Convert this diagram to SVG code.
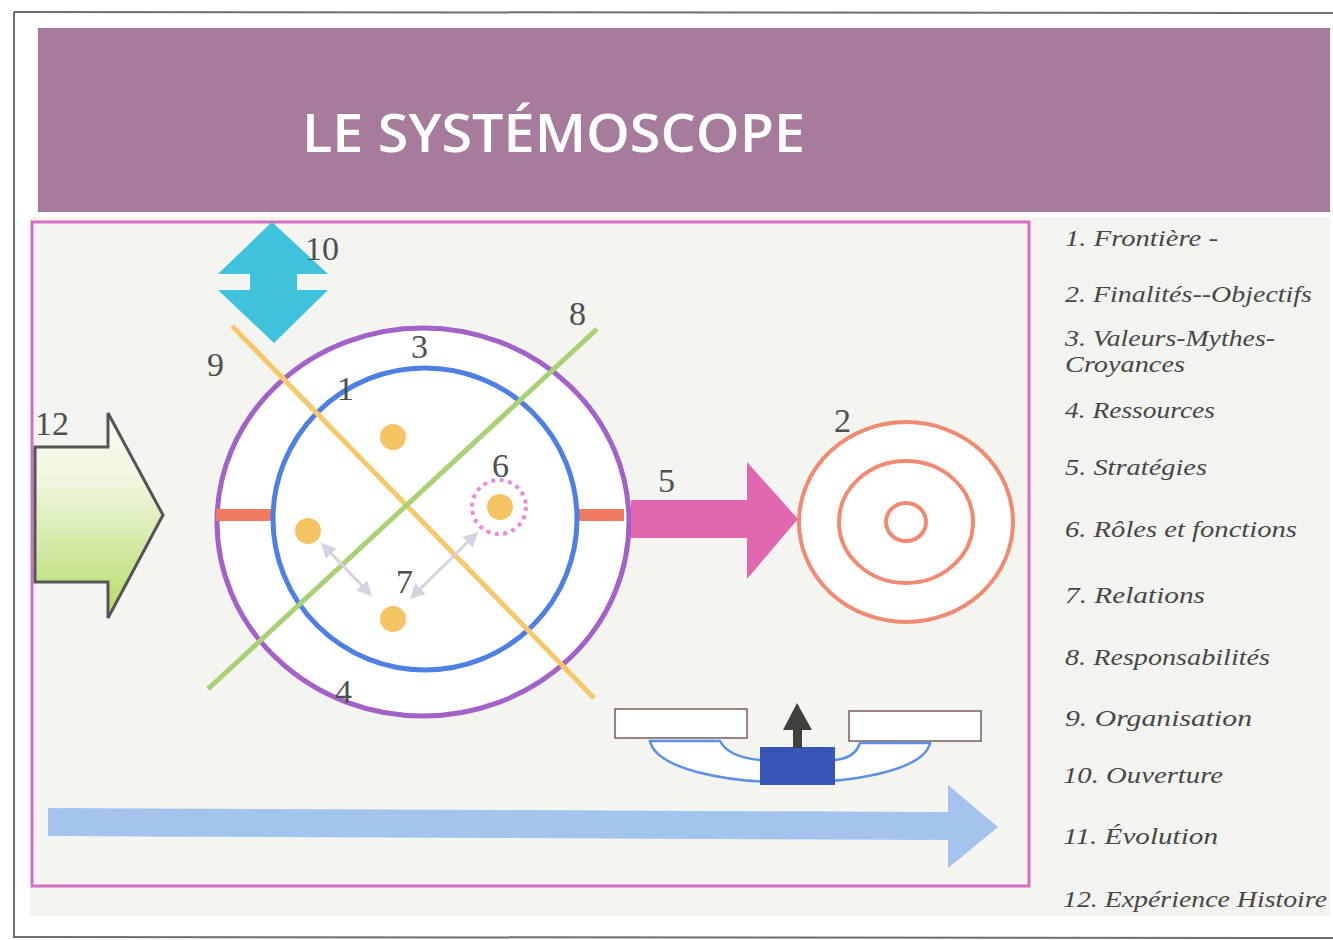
<svg xmlns="http://www.w3.org/2000/svg" width="1333" height="940" viewBox="0 0 1333 940">
<defs>
<style>
.num{font-family:"Liberation Serif","Times New Roman",serif;font-size:34px;fill:#4f4f4f}
.leg{font-family:"Liberation Serif","DejaVu Serif",serif;font-style:italic;font-size:24px;fill:#474747}
.dot{fill:#f5c463}
.ring{fill:none;stroke:#f08a72;stroke-width:4}
</style>
<linearGradient id="gGreen" x1="0" y1="0" x2="0" y2="1">
<stop offset="0" stop-color="#fbfcf6"/>
<stop offset="0.35" stop-color="#eef5dc"/>
<stop offset="1" stop-color="#b4dc66"/>
</linearGradient>
<marker id="ga" viewBox="0 0 10 10" refX="8" refY="5" markerWidth="5" markerHeight="5" orient="auto-start-reverse">
<path d="M0,0 L10,5 L0,10 Z" fill="#d6d2e2"/>
</marker>
</defs>
<rect x="0" y="0" width="1333" height="940" fill="#ffffff"/>
<g id="page">
<line x1="14" y1="12" x2="1333" y2="13" stroke="#6e6e6e" stroke-width="2"/>
<line x1="14" y1="12" x2="14" y2="938" stroke="#6e6e6e" stroke-width="2"/>
<line x1="14" y1="937" x2="1333" y2="938" stroke="#6e6e6e" stroke-width="2"/>
<rect x="30" y="217" width="1300" height="699" fill="#f3f4ef"/>
</g>
<g id="title">
<rect x="38" y="28" width="1292" height="184" fill="#a67b9b"/>
<text x="302" y="152" font-family="'Open Sans','Liberation Sans',sans-serif" font-weight="600" font-size="52" fill="#ffffff" textLength="503" lengthAdjust="spacingAndGlyphs">LE SYSTÉMOSCOPE</text>
</g>
<g id="frame">
<rect x="32" y="222" width="997" height="664" fill="#f4f5f0" stroke="#d56fc6" stroke-width="3"/>
</g>
<g id="n11-evolution">
<polygon points="48,808 948,812 948,785 998,827 948,868 948,840 48,836" fill="#a4c4ee"/>
</g>
<g id="n12-experience">
<polygon points="35,447 108,447 108,413 163,515 108,618 108,582 35,582" fill="url(#gGreen)" stroke="#555555" stroke-width="3" stroke-linejoin="miter"/>
<text class="num" x="35" y="435">12</text>
</g>
<g id="n10-ouverture">
<polygon points="272,222 328,274 297,274 297,290 328,290 274,343 218,290 250,290 250,274 218,274" fill="#3fc2dc"/>
<text class="num" x="305" y="260">10</text>
</g>
<g id="n4-ressources">
<ellipse cx="423" cy="522" rx="206" ry="194" fill="#ffffff" stroke="#a262c8" stroke-width="5"/>
<text class="num" x="335" y="703">4</text>
<text class="num" x="411" y="358">3</text>
</g>
<g id="n1-frontiere">
<rect x="216" y="509" width="56" height="12" fill="#f07a62"/>
<rect x="578" y="509" width="46" height="12" fill="#f07a62"/>
<ellipse cx="425" cy="519" rx="152" ry="151" fill="none" stroke="#4d80e2" stroke-width="5"/>
<text class="num" x="337" y="400">1</text>
</g>
<g id="n9-organisation">
<line x1="232" y1="326" x2="594" y2="698" stroke="#f5c86c" stroke-width="5"/>
<text class="num" x="207" y="376">9</text>
</g>
<g id="n8-responsabilites">
<line x1="597" y1="329" x2="208" y2="689" stroke="#a9d175" stroke-width="5"/>
<text class="num" x="569" y="325">8</text>
</g>
<g id="n6-roles">
<circle class="dot" cx="393" cy="437" r="13"/>
<circle class="dot" cx="308" cy="531" r="13"/>
<circle class="dot" cx="393" cy="619" r="13"/>
<circle class="dot" cx="500" cy="507" r="13"/>
<circle cx="499" cy="507" r="27" fill="none" stroke="#ec8ad8" stroke-width="4" stroke-dasharray="4 4.5"/>
<text class="num" x="492" y="477">6</text>
<text class="num" x="396" y="593">7</text>
</g>
<g id="n2-finalites">
<ellipse cx="906" cy="522" rx="107" ry="100" fill="#ffffff" stroke="#f08a72" stroke-width="4"/>
<ellipse class="ring" cx="906" cy="522" rx="67" ry="61"/>
<ellipse class="ring" cx="906" cy="522" rx="20" ry="19"/>
<text class="num" x="834" y="432">2</text>
</g>
<g id="connectors">
<polygon points="631,500 747,500 747,462 798,519 747,579 747,538 631,538" fill="#e167b0"/>
<line x1="323" y1="545" x2="370" y2="594" stroke="#d6d2e2" stroke-width="3" marker-start="url(#ga)" marker-end="url(#ga)"/>
<line x1="476" y1="534" x2="412" y2="597" stroke="#d6d2e2" stroke-width="3" marker-start="url(#ga)" marker-end="url(#ga)"/>
<text class="num" x="658" y="492">5</text>
</g>
<g id="balance">
<rect x="615" y="709" width="132" height="29" fill="#ffffff" stroke="#7a5c5c" stroke-width="1.5"/>
<rect x="849" y="711" width="132" height="30" fill="#ffffff" stroke="#7a5c5c" stroke-width="1.5"/>
<path d="M650,741 L720,741 Q728,757 760,760 L835,760 Q855,758 860,743 L930,743 C918,796 662,796 650,741 Z" fill="#ffffff" stroke="#5b91e2" stroke-width="2.5"/>
<rect x="760" y="747" width="75" height="38" fill="#3a55b8"/>
<rect x="793" y="728" width="9" height="20" fill="#404040"/>
<polygon points="783,730 812,730 797,703" fill="#404040"/>
</g>
<g id="legend">
<text class="leg" x="1065" y="246" textLength="153" lengthAdjust="spacingAndGlyphs">1. Frontière -</text>
<text class="leg" x="1065" y="302" textLength="247" lengthAdjust="spacingAndGlyphs">2. Finalités--Objectifs</text>
<text class="leg" x="1065" y="346" textLength="210" lengthAdjust="spacingAndGlyphs">3. Valeurs-Mythes-</text>
<text class="leg" x="1065" y="372" textLength="120" lengthAdjust="spacingAndGlyphs">Croyances</text>
<text class="leg" x="1065" y="418" textLength="150" lengthAdjust="spacingAndGlyphs">4. Ressources</text>
<text class="leg" x="1065" y="475" textLength="142" lengthAdjust="spacingAndGlyphs">5. Stratégies</text>
<text class="leg" x="1065" y="537" textLength="232" lengthAdjust="spacingAndGlyphs">6. Rôles et fonctions</text>
<text class="leg" x="1065" y="603" textLength="140" lengthAdjust="spacingAndGlyphs">7. Relations</text>
<text class="leg" x="1065" y="665" textLength="205" lengthAdjust="spacingAndGlyphs">8. Responsabilités</text>
<text class="leg" x="1065" y="726" textLength="187" lengthAdjust="spacingAndGlyphs">9. Organisation</text>
<text class="leg" x="1063" y="783" textLength="160" lengthAdjust="spacingAndGlyphs">10. Ouverture</text>
<text class="leg" x="1063" y="844" textLength="155" lengthAdjust="spacingAndGlyphs">11. Évolution</text>
<text class="leg" x="1063" y="907" textLength="264" lengthAdjust="spacingAndGlyphs">12. Expérience Histoire</text>
</g>
</svg>
